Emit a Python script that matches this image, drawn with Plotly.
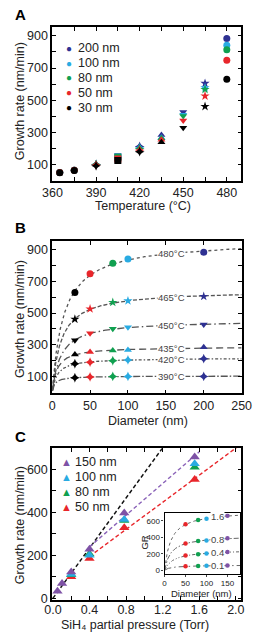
import numpy as np
import plotly.graph_objects as go

# ---------------- data ----------------
# Panel A: growth rate (nm/min) vs temperature for each wire diameter
temps = [365, 375, 390, 405, 420, 435, 450, 465, 480]
gr_200 = [50, 65, 100, 148, 212, 284, 427, 605, 883]
gr_100 = [50, 65, 100, 146, 204, 267, 410, 577, 841]
gr_80 = [50, 65, 100, 145, 199, 263, 401, 567, 814]
gr_50 = [50, 64, 97, 135, 190, 254, 373, 526, 748]
gr_30 = [48, 63, 92, 125, 180, 239, 328, 461, 630]
diam_labels = ["200 nm", "100 nm", "80 nm", "50 nm", "30 nm"]
diameters = [200, 100, 80, 50, 30]

# Panel B: temperatures shown vs diameter
temps_B = [480, 465, 450, 435, 420, 390]
temp_labels_B = ["480°C", "465°C", "450°C", "435°C", "420°C", "390°C"]

# Panel C: growth rate vs SiH4 partial pressure
p_150 = [0.05, 0.1, 0.2, 0.4, 0.78, 1.55]
gr_150 = [33, 69, 122, 228, 397, 658]
p_100 = [0.2, 0.4, 0.78, 1.55]
gr_100c = [112, 200, 367, 627]
p_80 = [0.2, 0.4, 0.78, 1.55]
gr_80c = [110, 206, 362, 611]
p_50 = [0.2, 0.4, 0.78, 1.55]
gr_50c = [100, 185, 329, 553]
c_labels = ["150 nm", "100 nm", "80 nm", "50 nm"]

# Panel C inset: GR vs diameter at each pressure
inset_d = [50, 80, 100, 150]
inset_p_labels = ["1.6", "0.8", "0.4", "0.1"]
inset_16 = [558, 610, 624, 662]
inset_08 = [325, 355, 360, 388]
inset_04 = [178, 195, 205, 222]
inset_01 = [48, 52, 54, 57]

# ---------------- style ----------------
W, H = 259, 638
FONT = "Liberation Sans, Arial, sans-serif"
col_diam = {200: "#2e3192", 100: "#29abe2", 80: "#10a050", 50: "#e8262b", 30: "#000000"}
col_c = ["#7e52a6", "#29abe2", "#10a050", "#e8262b"]
sym_A = ["circle", "circle", "star-diamond", "square", "star-diamond",
         "triangle-up", "triangle-down", "star", "circle"]
sym_B = {480: "circle", 465: "star", 450: "triangle-down", 435: "triangle-up",
         420: "star-diamond", 390: "star-diamond"}
dash_B = {480: "dot", 465: "4px,2px", 450: "7px,3px,1.5px,3px", 435: "7px,4px",
          420: "3px,2px,1.5px,2px", 390: "7px,2px,1.5px,2px"}
dash_in = ["dot", "5px,2px,1.5px,2px", "3px,2px,1px,2px,1px,2px", "7px,3px,1.5px,3px"]
GRAY = "#555555"


def fx(px):
    return px / W


def fy(py):
    return 1 - py / H


def fit_sat(d, y):
    d = np.asarray(d, float)
    y = np.asarray(y, float)
    best = None
    for k in np.linspace(0.3, 80, 1200):
        f = d / (d + k)
        A = (f @ y) / (f @ f)
        err = ((A * f - y) ** 2).sum()
        if best is None or err < best[0]:
            best = (err, A, k)
    return best[1], best[2]


fig = go.Figure()

gr_by_diam = {200: gr_200, 100: gr_100, 80: gr_80, 50: gr_50, 30: gr_30}

# ---------------- Panel A ----------------
for dm in diameters:
    fig.add_trace(go.Scatter(x=temps, y=gr_by_diam[dm], mode="markers", xaxis="x", yaxis="y",
                             marker=dict(color=col_diam[dm], symbol=sym_A, size=7, line=dict(width=0)),
                             showlegend=False))

# ---------------- Panel B ----------------
d_sorted = sorted(diameters)
dfine = np.linspace(0.3, 250, 500)
for t in temps_B:
    i = temps.index(t)
    vals = [gr_by_diam[dm][i] for dm in d_sorted]
    A, k = fit_sat(d_sorted, vals)
    fig.add_trace(go.Scatter(x=dfine, y=A * dfine / (dfine + k), mode="lines", xaxis="x2", yaxis="y2",
                             line=dict(color=GRAY, width=1.3, dash=dash_B[t]), showlegend=False,
                             hoverinfo="skip"))
for t in temps_B:
    i = temps.index(t)
    vals = [gr_by_diam[dm][i] for dm in d_sorted]
    A, k = fit_sat(d_sorted, vals)
    xl = 158
    fig.add_annotation(x=xl, y=A * xl / (xl + k), xref="x2", yref="y2",
                       text=temp_labels_B[temps_B.index(t)], showarrow=False,
                       font=dict(family=FONT, size=9.5, color="#444"), bgcolor="white", borderpad=0)
for dm in d_sorted:
    fig.add_trace(go.Scatter(x=[dm] * len(temps_B), y=[gr_by_diam[dm][temps.index(t)] for t in temps_B],
                             mode="markers", xaxis="x2", yaxis="y2",
                             marker=dict(color=col_diam[dm], symbol=[sym_B[t] for t in temps_B], size=7,
                                         line=dict(width=0)),
                             showlegend=False))

# ---------------- Panel C ----------------
p150 = np.asarray(p_150)
g150 = np.asarray(gr_150, float)
low = p150 <= 0.4
slope0 = (p150[low] @ g150[low]) / (p150[low] @ p150[low])
xb = np.array([0.0, 699 / slope0])
fig.add_trace(go.Scatter(x=xb, y=slope0 * xb, mode="lines", xaxis="x3", yaxis="y3",
                         line=dict(color="#111", width=1.4, dash="4px,2.5px"), showlegend=False))
hi = p150 >= 0.4
m1, b1 = np.polyfit(p150[hi], g150[hi], 1)
xp = np.array([0.4, 1.6])
fig.add_trace(go.Scatter(x=xp, y=m1 * xp + b1, mode="lines", xaxis="x3", yaxis="y3",
                         line=dict(color="#8a62b8", width=1.4, dash="4px,2.5px"), showlegend=False))
p50a = np.asarray(p_50)
g50a = np.asarray(gr_50c, float)
hi5 = p50a >= 0.4
m2, b2 = np.polyfit(p50a[hi5], g50a[hi5], 1)
xr = np.array([0.4, 2.06])
fig.add_trace(go.Scatter(x=xr, y=m2 * xr + b2, mode="lines", xaxis="x3", yaxis="y3",
                         line=dict(color="#e8262b", width=1.4, dash="4px,2.5px"), showlegend=False))
for (px_, gy_, c) in [(p_50, gr_50c, col_c[3]), (p_80, gr_80c, col_c[2]),
                      (p_100, gr_100c, col_c[1]), (p_150, gr_150, col_c[0])]:
    fig.add_trace(go.Scatter(x=px_, y=gy_, mode="markers", xaxis="x3", yaxis="y3",
                             marker=dict(color=c, symbol="triangle-up", size=9, line=dict(width=0)),
                             showlegend=False))

# ---------------- Inset ----------------
inset_rows = [inset_16, inset_08, inset_04, inset_01]
dfi = np.linspace(0.3, 180, 300)
for j, row in enumerate(inset_rows):
    A, k = fit_sat(inset_d, row)
    fig.add_trace(go.Scatter(x=dfi, y=A * dfi / (dfi + k), mode="lines", xaxis="x4", yaxis="y4",
                             line=dict(color="#666", width=1.0, dash=dash_in[j]), showlegend=False))
    xl = 127
    fig.add_annotation(x=xl, y=A * xl / (xl + k), xref="x4", yref="y4", text=inset_p_labels[j],
                       showarrow=False, font=dict(family=FONT, size=9.5, color="#444"),
                       bgcolor="white", borderpad=0)
    fig.add_trace(go.Scatter(x=inset_d, y=row, mode="markers", xaxis="x4", yaxis="y4",
                             marker=dict(color=[col_c[3], col_c[2], col_c[1], col_c[0]], size=4.5,
                                         symbol="circle", line=dict(width=0)),
                             showlegend=False))

# ---------------- axes ----------------
tickfont = dict(family=FONT, size=12.5, color="#222")
common = dict(showline=True, linecolor="black", linewidth=1.5, mirror="ticks", ticks="inside",
              ticklen=4, tickwidth=1.2, tickcolor="black", showgrid=False, zeroline=False,
              tickfont=tickfont)
minor = lambda dt: dict(dtick=dt, ticks="inside", ticklen=4, tickwidth=1.2, tickcolor="black", showgrid=False)
inset_tf = dict(family=FONT, size=8, color="#222")

fig.update_layout(
    xaxis=dict(domain=[fx(45.7), fx(250.7)], range=[359.8, 490], anchor="y", tick0=360, dtick=30,
               minor=minor(15), **common),
    yaxis=dict(domain=[fy(182.3), fy(27.3)], range=[0, 955], anchor="x", tick0=100, dtick=200,
               minor=minor(100), **common),
    xaxis2=dict(domain=[fx(45.7), fx(251)], range=[0, 250], anchor="y2", tick0=0, dtick=50, **common),
    yaxis2=dict(domain=[fy(397), fy(243.5)], range=[-6, 953], anchor="x2", tick0=100, dtick=200,
                minor=minor(100), **common),
    xaxis3=dict(domain=[fx(45.5), fx(250.7)], range=[-0.01, 2.06], anchor="y3", tick0=0, dtick=0.4,
                tickformat=".1f", minor=minor(0.2), ticklabelstandoff=-3, **common),
    yaxis3=dict(domain=[fy(605.7), fy(452.5)], range=[-8, 699], anchor="x3", tick0=0, dtick=200,
                minor=minor(100), **common),
    xaxis4=dict(domain=[fx(167.5), fx(249.3)], range=[0, 180], anchor="y4", tick0=0, dtick=50,
                showline=True, linecolor="black", linewidth=1.2, mirror=True, ticks="outside",
                ticklen=2, tickwidth=1, showgrid=False, zeroline=False, tickfont=inset_tf),
    yaxis4=dict(domain=[fy(579), fy(518.3)], range=[-40, 690], anchor="x4", tick0=0, dtick=200,
                showline=True, linecolor="black", linewidth=1.2, mirror=True, ticks="outside",
                ticklen=2, tickwidth=1, showgrid=False, zeroline=False, tickfont=inset_tf),
    width=W, height=H, margin=dict(l=0, r=0, t=0, b=0),
    paper_bgcolor="white", plot_bgcolor="white", showlegend=False,
    font=dict(family=FONT, color="#222"),
)

# ---------------- text annotations ----------------
def ann(x, y, text, size=12.5, angle=0, xanchor="center", color="#222", bold=False):
    fig.add_annotation(x=fx(x), y=fy(y), xref="paper", yref="paper", text=f"<b>{text}</b>" if bold else text,
                       showarrow=False, textangle=angle, xanchor=xanchor, yanchor="middle",
                       font=dict(family=FONT, size=size, color=color))

ann(3, 15, "A", size=15, xanchor="left", color="black", bold=True)
ann(3, 230, "B", size=15, xanchor="left", color="black", bold=True)
ann(3, 441, "C", size=15, xanchor="left", color="black", bold=True)
ann(11, 102, "Growth rate (nm/min)", angle=-90)
ann(11, 322, "Growth rate (nm/min)", angle=-90)
ann(11, 530, "Growth rate (nm/min)", angle=-90)
ann(144, 208, "Temperature (°C)")
ann(150, 425, "Diameter (nm)")
ann(135, 631, "SiH₄ partial pressure (Torr)")
ann(146, 548, "GR", size=9.5, angle=-90)
ann(208, 599, "Diameter (nm)", size=9.5)

# legends
for i, (lab, dm) in enumerate(zip(diam_labels, diameters)):
    y = 48.7 + 15 * i
    ann(64, y, "●", size=10, color=col_diam[dm])
    ann(71, y, lab, xanchor="left")
for i, lab in enumerate(c_labels):
    y = 466 + 15.2 * i
    ann(61, y, "▲", size=11, color=col_c[i])
    ann(68.5, y, lab, xanchor="left")

fig.write_html("out.html")
